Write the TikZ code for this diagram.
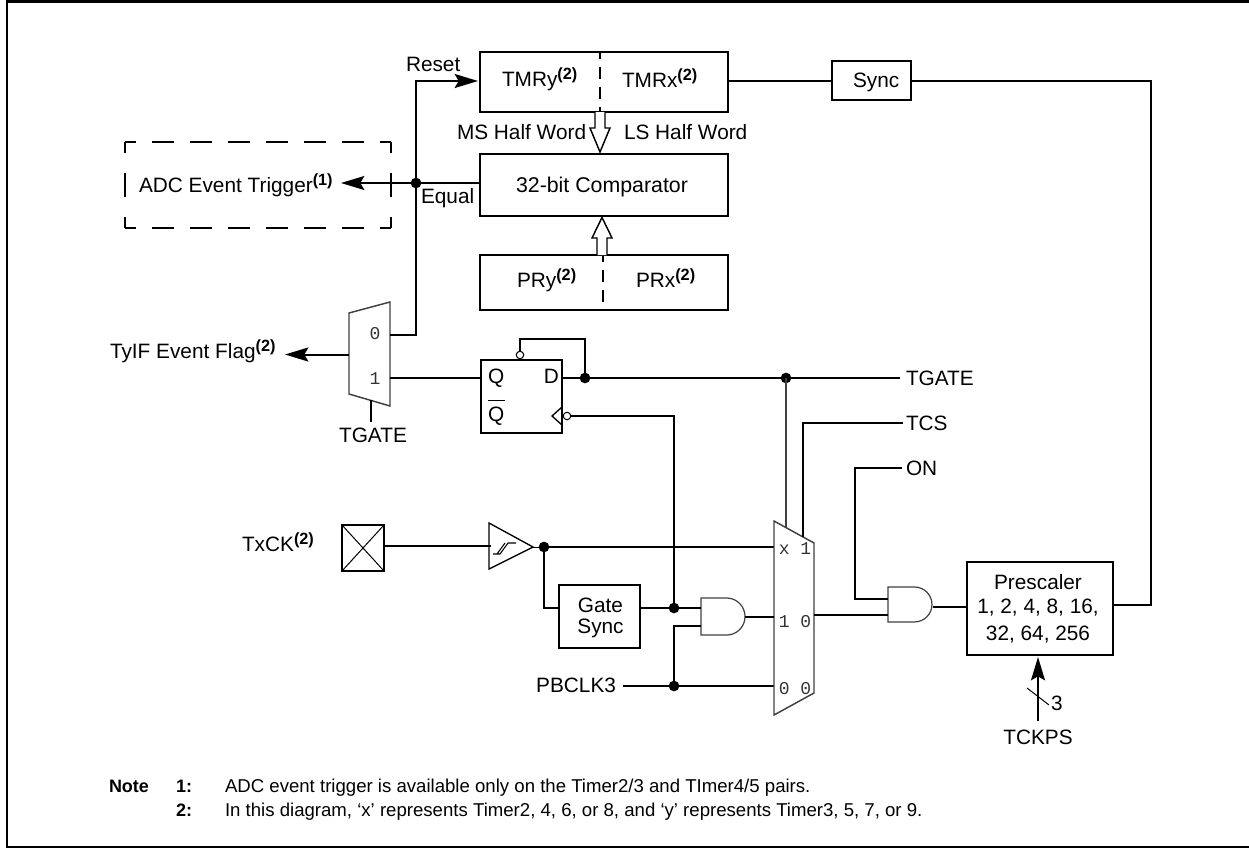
\documentclass[tikz,border=0pt]{standalone}
\usepackage{fontspec}
\setmainfont{Liberation Sans}
\newfontfamily\monof{Liberation Mono}
\usetikzlibrary{arrows.meta,calc}
\newcommand{\supr}[1]{\raisebox{5.2pt}{\fontsize{12.2}{12}\selectfont\bfseries(#1)}}
\tikzset{
  x=.75pt,y=-.75pt,
  wire/.style={line width=1.5pt,line join=miter},
  thinw/.style={line width=.9pt,draw=black!75,line join=miter},
  hairw/.style={line width=.75pt},
  box/.style={draw,line width=1.5pt,inner sep=0pt,outer sep=0pt,minimum width=#1},
  lbl/.style={inner sep=0pt,outer sep=0pt,anchor=base west,font=\fontsize{15.6}{18}\selectfont},
  lblc/.style={lbl,anchor=base},
  lble/.style={lbl,anchor=base east},
  muxl/.style={inner sep=0pt,outer sep=0pt,anchor=base,text=black!80,font=\monof\fontsize{13.5}{15}\selectfont},
  note/.style={inner sep=0pt,outer sep=0pt,anchor=base west,font=\fontsize{13.95}{15}\selectfont},
  noteb/.style={inner sep=0pt,outer sep=0pt,anchor=base west,font=\fontsize{13.5}{15}\selectfont\bfseries},
  dot/.style={circle,fill=black,inner sep=0pt,outer sep=0pt,minimum size=8pt},
  bub/.style={circle,draw,fill=white,line width=.8pt,inner sep=0pt,outer sep=0pt,minimum size=5.6pt},
  solidarrow/.style={-{Stealth[length=17.5pt,width=10.5pt,inset=3pt]},line width=1.5pt},
}
\begin{document}
\begin{tikzpicture}
\useasboundingbox (0,0) rectangle (1249,850);
% frame
\draw[line width=1.6pt] (1249,1.5) -- (7,1.5) -- (7,847) -- (1249,847);
% boxes
\node[box=186pt,minimum height=45pt] (tmr) at (604,82) {};
\node[box=186pt,minimum height=46.5pt] (cmp) at (604,185) {};
\node[box=186pt,minimum height=41.25pt] (pr) at (604,282.5) {};
\node[box=60.75pt,minimum height=54.75pt] (ff) at (521.5,396.5) {};
\node[box=60.75pt,minimum height=47.25pt] (gs) at (599.5,616.5) {};
\node[box=59.25pt,minimum height=29.25pt] (sync) at (871.5,80.5) {};
\node[box=109.5pt,minimum height=69.75pt] (pre) at (1040,608.5) {};
\node[box=31.5pt,minimum height=34.5pt] (txck) at (363,548) {};
\draw[hairw] (txck.north west) -- (txck.south east) (txck.north east) -- (txck.south west);
% box dividers
\coordinate (tmrt) at (600,52); \coordinate (tmrb) at (600,112);
\coordinate (prt) at (603,255); \coordinate (prb) at (603,310);
\draw[wire,dash pattern=on 9pt off 6pt,dash phase=4pt] (tmrt) -- (tmrb);
\draw[wire,dash pattern=on 9pt off 6pt,dash phase=4pt] (prt) -- (prb);
% box labels
\node[lbl] (ltmry) at (502,86) {TMRy\supr{2}};
\node[lbl] (ltmrx) at (622,87) {TMRx\supr{2}};
\node[lbl] (lms) at (457,139) {MS Half Word};
\node[lbl] (lls) at (624,139) {LS Half Word};
\node[lblc,font=\fontsize{16}{18}\selectfont] (lcmp) at (602,192) {32-bit Comparator};
\node[lbl] (lpry) at (517,287) {PRy\supr{2}};
\node[lbl] (lprx) at (636,287) {PRx\supr{2}};
\node[lbl] (lreset) at (406,71) {Reset};
\node[lbl] (lequal) at (421,203) {Equal};
% hollow arrows
\draw[line width=1.1pt,fill=white] (595,112) -- (595,128) -- (590,128) -- (600,152) -- (610,128) -- (605,128) -- (605,112);
\draw[line width=1.1pt,fill=white] (597,255) -- (597,238) -- (592,238) -- (602,217.5) -- (612,238) -- (607,238) -- (607,255);
% ADC dashed box
\coordinate (ad1) at (125,142); \coordinate (ad2) at (391,142);
\coordinate (ad3) at (391,228); \coordinate (ad4) at (125,228);
\draw[line width=1.3pt,dash pattern=on 16.5pt off 12pt,dash phase=8.25pt] (ad1) -- (ad2);
\draw[line width=1.3pt,dash pattern=on 16.5pt off 12pt,dash phase=8.25pt] (ad4) -- (ad3);
\draw[line width=1.3pt,dash pattern=on 18.5pt off 15pt,dash phase=10.5pt] (ad1) -- (ad4);
\draw[line width=1.3pt,dash pattern=on 18.5pt off 15pt,dash phase=10.5pt] (ad2) -- (ad3);
\node[lbl] (ladc) at (139,192) {ADC Event Trigger\supr{1}};
\node[lbl] (ltyif) at (110,358) {TyIF Event Flag\supr{2}};
% output mux
\coordinate (m1a) at (349,313); \coordinate (m1b) at (390,302);
\coordinate (m1c) at (390,406); \coordinate (m1d) at (349,394);
\draw[thinw,line width=1.1pt] (m1a) -- (m1b) -- (m1c) -- (m1d) -- cycle;
\node[muxl] (m1l0) at (375,339) {0};
\node[muxl] (m1l1) at (375,384) {1};
\coordinate (m1out) at (349,354.5);
\coordinate (m1i0) at (390,334.5); \coordinate (m1i1) at (390,378);
\coordinate (m1s) at (371,400);
\coordinate (tip1) at (285,354.5);
\draw[solidarrow] (m1out) -- (tip1);
\node[lblc] (ltg1) at (373,442) {TGATE};
\draw[wire] (m1s) -- (371,422);
% Reset/Equal routing
\node[dot] (jeq) at (416,183) {};
\coordinate (tip2) at (341,183);
\coordinate (tip3) at (478,81);
\draw[wire] (cmp.west |- jeq) -- (jeq);
\draw[solidarrow] (jeq) -- (tip2);
\draw[solidarrow] (m1i0) -| (jeq.center) |- (tip3);
% flip flop
\node[lbl] (lq) at (488,383) {Q};
\node[lble] (ld) at (559,383) {D};
\node[lbl] (lqb) at (488,421) {\rlap{\raisebox{15pt}{\rule{12.75pt}{1.1pt}}}Q};
\draw[wire] (m1i1) -- (ff.west |- m1i1);
\node[dot] (jd) at (585,378) {};
\node[dot] (jtg) at (786,378) {};
\coordinate (tgend) at (900,378);
\node[lbl] (ltg2) at (906,385) {TGATE};
\draw[wire] (ff.east |- jd) -- (tgend);
\node[bub] (bset) at (520,355) {};
\draw[wire] (bset.north) -- (520,339) -| (jd.center);
% clock
\coordinate (ck1) at (562,407); \coordinate (ck2) at (552,416); \coordinate (ck3) at (562,425);
\draw[line width=1pt] (ck1) -- (ck2) -- (ck3);
\node[bub] (bck) at (567,416) {};
\node[dot] (jgs) at (674,608) {};
\draw[wire] (bck.east) -| (jgs.center);
% input path
\node[lbl] (ltx) at (242,551) {TxCK\supr{2}};
\coordinate (b1) at (489,523); \coordinate (b2) at (533,547); \coordinate (b3) at (489,569);
\draw[line width=1pt] (b1) -- (b2) -- (b3) -- cycle;
\draw[line width=.8pt] (493,554) -- (500,554) -- (508,543) -- (516,543) (497,554) -- (505,543);
\draw[wire] (txck.east |- 0,546) -- (491,546);
\node[dot] (jb) at (544,547) {};
\draw (b2) -- (jb);
\coordinate (m2x) at (774,547);
\draw[wire] (jb) -- (m2x);
\draw[wire] (jb.center) |- (gs.west |- jgs);
\draw[wire] (gs.east |- jgs) -- (jgs);
\node[lblc] (lg1) at (600.5,612) {Gate};
\node[lblc] (lg2) at (600.5,633) {Sync};
% AND 1
\coordinate (a1t) at (701,598); \coordinate (a1b) at (701,635);
\draw[thinw,fill=white] (a1b) -- (a1t) -- (726.5,598) arc[start angle=90,end angle=-90,radius=13.9pt] -- cycle;
\coordinate (a1i1) at (701,608); \coordinate (a1i2) at (701,626); \coordinate (a1o) at (745,616.5);
\draw[wire] (jgs) -- (a1i1);
\node[dot] (jclk) at (674,686) {};
\draw[wire] (a1i2) -| (jclk.center);
\node[lble] (lpb) at (616,692) {PBCLK3};
\coordinate (pbs) at (623,686);
\coordinate (m2z) at (774,686);
\draw[wire] (pbs) -- (m2z);
% mux 2
\coordinate (m2a) at (774,521); \coordinate (m2b) at (814,543);
\coordinate (m2c) at (814,693); \coordinate (m2d) at (774,715);
\draw[thinw,line width=1.1pt] (m2a) -- (m2b) -- (m2c) -- (m2d) -- cycle;
\node[muxl] (m2l1) at (795,554) {x 1};
\node[muxl] (m2l2) at (795,627) {1 0};
\node[muxl] (m2l3) at (795,694) {0 0};
\draw[wire] (a1o) -- (774,616.5);
\draw[thinw,line width=1.1pt] (jtg.center) -- (786,528);
\node[lbl] (ltcs) at (906,430) {TCS};
\node[lbl] (lon) at (906,475) {ON};
\coordinate (tcsa) at (903,423);
\coordinate (tcsb) at (803,537);
\draw[wire] (tcsa) -| (tcsb);
% AND 2
\coordinate (a2t) at (888,587); \coordinate (a2b) at (888,622);
\draw[thinw,fill=white] (a2b) -- (a2t) -- (914.5,587) arc[start angle=90,end angle=-90,radius=13.1pt] -- cycle;
\coordinate (a2i1) at (888,599); \coordinate (a2i2) at (888,615); \coordinate (a2o) at (933,606.5);
\coordinate (ona) at (902,468);
\draw[wire] (ona) -| (855,599) -- (a2i1);
\draw[wire] (814,615) -- (a2i2);
\draw[wire] (a2o) -- (pre.west |- a2o);
% prescaler
\node[lblc] (lp1) at (1038,589) {Prescaler};
\node[lblc] (lp2) at (1038,613) {1, 2, 4, 8, 16,};
\node[lblc] (lp3) at (1038,640) {32, 64, 256};
\node[lbl] (lsync) at (853,87) {Sync};
\coordinate (corner1) at (1151,81);
\coordinate (corner2) at (1151,604.5);
\draw[wire] (tmr.east |- sync.west) -- (sync.west);
\draw[wire] (sync.east |- corner1) -- (corner1) -- (corner2) -- (pre.east |- corner2);
% TCKPS
\coordinate (tka) at (1038,721); \coordinate (tkb) at (1038,657);
\draw[solidarrow] (tka) -- (tkb);
\draw[hairw] (1027,688) -- (1049,705);
\node[lbl] (l3) at (1051,710) {3};
\node[lblc] (ltk) at (1038,744) {TCKPS};
% notes
\node[noteb] (n0) at (109,792) {Note};
\node[noteb] (n1) at (176,792) {1:};
\node[noteb] (n2) at (176,816) {2:};
\node[note] (t1) at (225,792) {ADC event trigger is available only on the Timer2/3 and TImer4/5 pairs.};
\node[note] (t2) at (225,816) {In this diagram, ‘x’ represents Timer2, 4, 6, or 8, and ‘y’ represents Timer3, 5, 7, or 9.};
\end{tikzpicture}
\end{document}
